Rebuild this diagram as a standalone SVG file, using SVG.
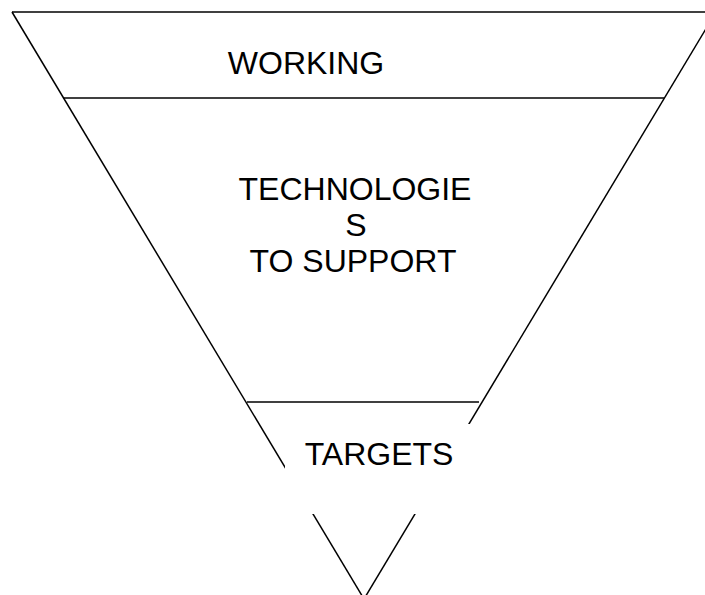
<svg xmlns="http://www.w3.org/2000/svg" width="705" height="595" viewBox="0 0 705 595">
<style>
.ln{stroke:#000;stroke-width:1.5;fill:none;stroke-linecap:butt}
.div{stroke:#000;stroke-width:1.4;fill:none}
.lbl{font-family:"Liberation Sans",Arial,sans-serif;font-size:32px;fill:#000;text-anchor:middle}
</style>
<rect width="705" height="595" fill="#fff"/>
<g id="funnel">
<line class="ln" x1="12" y1="12" x2="705" y2="12"/>
<line class="ln" x1="12" y1="12" x2="364" y2="599"/>
<line class="ln" x1="716" y1="12" x2="364" y2="599"/>
<line class="div" x1="63" y1="98" x2="664" y2="98"/>
<line class="div" x1="247" y1="402" x2="479" y2="402"/>
</g>
<g id="working">
<text class="lbl" x="306" y="74">WORKING</text>
</g>
<g id="technologies">
<text class="lbl" x="355" y="200">TECHNOLOGIE</text>
<text class="lbl" x="356" y="236">S</text>
<text class="lbl" x="353" y="272">TO SUPPORT</text>
</g>
<g id="targets">
<rect x="285" y="424" width="195" height="90" fill="#fff"/>
<text class="lbl" x="379" y="465">TARGETS</text>
</g>
</svg>
